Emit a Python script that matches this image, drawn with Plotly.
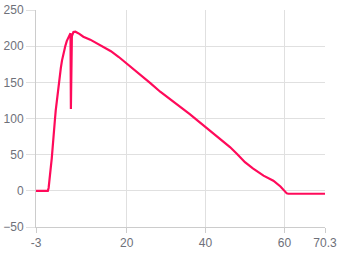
import plotly.graph_objects as go

x_vals = [-3, 0, 0.2, 0.4, 0.62, 0.8, 1.0, 1.13, 1.4, 1.6, 1.81, 2.0, 2.3, 2.5, 2.73, 3.0, 3.3,
          3.59, 3.9, 4.42, 4.8, 5.27, 5.5, 5.75, 5.85, 6.1, 6.5, 7.0,
          8, 9, 10.76, 12, 14.1, 16, 18, 20, 22, 24, 26, 28.5, 30, 32, 34, 36, 38, 40,
          42, 43.7, 46.2, 48, 50, 52, 54.7, 57.2, 59, 60.6, 61, 70.3]
y_vals = [0, 0, 4, 12, 25, 35, 45, 52, 70, 85, 99, 111, 127, 137, 148, 159, 170,
          180, 189, 200, 207, 213, 216, 218, 113, 214, 219.5, 220,
          217, 213, 209, 205, 199, 193, 185, 176, 168, 159, 149, 137, 131, 122, 114, 106, 97, 88,
          79, 71, 60.5, 51, 39.6, 31, 21, 14, 6, -3.5, -4, -4]

x_ticks = [-3, 20, 40, 60, 70.3]
x_tick_text = ["-3", "20", "40", "60", "70.3"]
y_ticks = [-50, 0, 50, 100, 150, 200, 250]

fig = go.Figure()
fig.add_trace(go.Scatter(x=x_vals, y=y_vals, mode="lines",
                         line=dict(color="#ff0a5a", width=2.2), hoverinfo="skip"))

fig.update_layout(
    width=340, height=255,
    margin=dict(l=36, r=15, t=10, b=28, autoexpand=False),
    paper_bgcolor="white", plot_bgcolor="white",
    showlegend=False,
    font=dict(family="Liberation Sans, Arial, sans-serif", size=12, color="#6e7079"),
)
fig.update_xaxes(range=[-3, 70.3], tickmode="array", tickvals=x_ticks, ticktext=x_tick_text,
                 showgrid=True, gridcolor="#e0e0e0", gridwidth=1, automargin=False,
                 zeroline=False, showline=True, linecolor="#cccccc", linewidth=1,
                 ticks="outside", ticklen=5, tickcolor="#cccccc")
fig.update_yaxes(range=[-50, 250], tickmode="array", tickvals=y_ticks, automargin=False,
                 showgrid=True, gridcolor="#e0e0e0", gridwidth=1,
                 zeroline=False, showline=True, linecolor="#cccccc", linewidth=1,
                 ticks="outside", ticklen=9, tickcolor="#e0e0e0")

fig.write_html("out.html")
